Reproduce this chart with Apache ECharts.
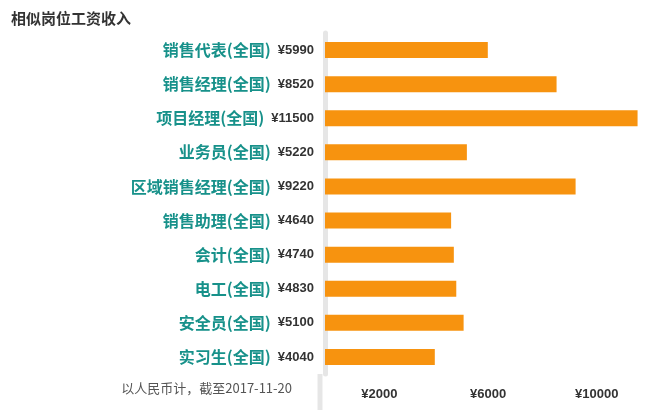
<!doctype html>
<html lang="zh">
<head>
  <meta charset="UTF-8">
  <title>相似岗位工资收入</title>
</head>
<body style="margin:0">
<div id="main" style="width: 657px;height: 417px"></div>
<script src="https://cdn.jsdelivr.net/npm/echarts@6/dist/echarts.min.js"></script>
<script>
    var jobs = ['销售代表(全国)', '销售经理(全国)', '项目经理(全国)', '业务员(全国)', '区域销售经理(全国)',
        '销售助理(全国)', '会计(全国)', '电工(全国)', '安全员(全国)', '实习生(全国)']
    var salaries = [5990, 8520, 11500, 5220, 9220, 4640, 4740, 4830, 5100, 4040]
    var tickLabels = [2000, 6000, 10000]

    let myChart = echarts.init(document.querySelector('#main'))
    myChart.setOption({
        animation: false,
        title: {
            text: '相似岗位工资收入',
            left: 6,
            top: 6,
            textStyle: {fontSize: 15, fontWeight: 'bold', color: '#333', fontFamily: 'Noto Sans CJK SC'}
        },
        grid: {left: 325, right: 14, top: 33, bottom: 43},
        xAxis: {
            type: 'value',
            min: 0,
            max: 11700,
            interval: 2000,
            splitLine: {show: false},
            axisLine: {show: false},
            axisTick: {show: false},
            axisLabel: {
                margin: 14,
                fontWeight: 'bold',
                fontSize: 13,
                color: '#333',
                formatter: function (v) {
                    return tickLabels.indexOf(v) >= 0 ? '¥' + v : ''
                }
            }
        },
        yAxis: {
            type: 'category',
            inverse: true,
            data: jobs,
            offset: 5,
            axisTick: {show: false},
            axisLine: {lineStyle: {color: '#e6e6e6', width: 5}},
            axisLabel: {
                margin: 6,
                formatter: function (v, i) {
                    return '{n|' + v + '}{s|¥' + salaries[i] + '}'
                },
                rich: {
                    n: {color: '#17918a', fontSize: 16, fontWeight: 'bold', fontFamily: 'Noto Sans CJK SC', padding: [0, 7, 0, 0]},
                    s: {color: '#333', fontSize: 13, fontWeight: 'bold'}
                }
            }
        },
        graphic: [
            {type: 'rect', left: 317.5, top: 374, shape: {width: 5, height: 36}, style: {fill: '#e6e6e6'}},
            {
                type: 'text', right: 365, top: 382,
                style: {text: '以人民币计，截至2017-11-20', fill: '#555', fontSize: 13, fontFamily: 'Noto Sans CJK SC'}
            }
        ],
        series: [{
            type: 'bar',
            data: salaries,
            barWidth: 16,
            itemStyle: {color: '#f7930f'}
        }]
    })
</script>
</body>
</html>
